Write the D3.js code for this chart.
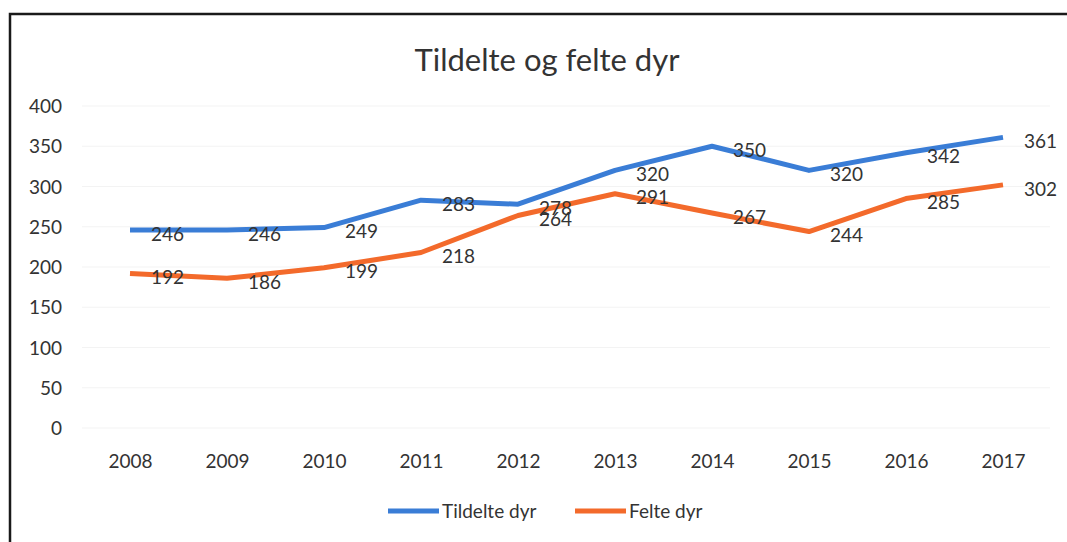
<!DOCTYPE html>
<html>
<head>
<meta charset="utf-8">
<title>Tildelte og felte dyr</title>
<style>
  body { margin: 0; background: #fff; }
  svg text { font-family: Lato, "Open Sans", sans-serif; fill: #333; }
</style>
</head>
<body>
<svg id="chart"></svg>
<script src="https://cdn.jsdelivr.net/npm/d3@7"></script>
<script>
// data
var years = ["2008", "2009", "2010", "2011", "2012", "2013", "2014", "2015", "2016", "2017"];
var tildelte = [246, 246, 249, 283, 278, 320, 350, 320, 342, 361];
var felte = [192, 186, 199, 218, 264, 291, 267, 244, 285, 302];
var yTicks = [0, 50, 100, 150, 200, 250, 300, 350, 400];

var width = 1067, height = 542;
var blue = "#3a7dd6", orange = "#f36a2b";

var svg = d3.select("#chart").attr("width", width).attr("height", height);

// scanned frame
svg.append("rect")
    .attr("x", 10).attr("y", 14)
    .attr("width", 1080).attr("height", 600)
    .attr("fill", "none")
    .attr("stroke", "#1a1a1a")
    .attr("stroke-width", 2.5);

var x = d3.scalePoint().domain(years).range([130, 1003]);
var y = d3.scaleLinear().domain([0, 400]).range([428, 106]);

// faint gridlines
svg.append("g").selectAll("line")
    .data(yTicks)
    .enter().append("line")
    .attr("x1", 82).attr("x2", 1050)
    .attr("y1", function(d) { return y(d); })
    .attr("y2", function(d) { return y(d); })
    .attr("stroke", "#f3f3f3")
    .attr("stroke-width", 1);

// y axis labels
var yAxis = svg.append("g")
    .attr("transform", "translate(68,0)")
    .call(d3.axisLeft(y).tickValues(yTicks).tickSize(0).tickPadding(6));
yAxis.select(".domain").remove();
yAxis.selectAll("text").style("font-size", "19px").attr("fill", "#333").attr("dy", "0.35em");

// x axis labels
var xAxis = svg.append("g")
    .attr("transform", "translate(0,454)")
    .call(d3.axisBottom(x).tickSize(0).tickPadding(0));
xAxis.select(".domain").remove();
xAxis.selectAll("text").style("font-size", "19px").attr("fill", "#333").attr("dy", "0.75em");

// title
svg.append("text")
    .attr("x", 547).attr("y", 71)
    .attr("text-anchor", "middle")
    .style("font-size", "31px")
    .text("Tildelte og felte dyr");

var line = d3.line()
    .x(function(d, i) { return x(years[i]); })
    .y(function(d) { return y(d); });

var series = [
  { name: "Tildelte dyr", values: tildelte, color: blue },
  { name: "Felte dyr", values: felte, color: orange }
];

series.forEach(function(s) {
  svg.append("path")
      .datum(s.values)
      .attr("d", line)
      .attr("fill", "none")
      .attr("stroke", s.color)
      .attr("stroke-width", 5)
      .attr("stroke-linejoin", "round");
});

// data labels, to the right of each point
series.forEach(function(s) {
  svg.append("g").selectAll("text")
      .data(s.values)
      .enter().append("text")
      .attr("x", function(d, i) { return x(years[i]) + 21; })
      .attr("y", function(d) { return y(d) + 4; })
      .attr("dy", "0.35em")
      .style("font-size", "19px")
      .text(function(d) { return d; });
});

// legend
var legend = svg.append("g").attr("transform", "translate(388,511)");
var lx = [0, 187];
series.forEach(function(s, i) {
  legend.append("line")
      .attr("x1", lx[i]).attr("x2", lx[i] + 51)
      .attr("y1", 0).attr("y2", 0)
      .attr("stroke", s.color)
      .attr("stroke-width", 5);
  legend.append("text")
      .attr("x", lx[i] + 54).attr("y", 0)
      .attr("dy", "0.35em")
      .style("font-size", "19px")
      .text(s.name);
});
</script>
</body>
</html>
